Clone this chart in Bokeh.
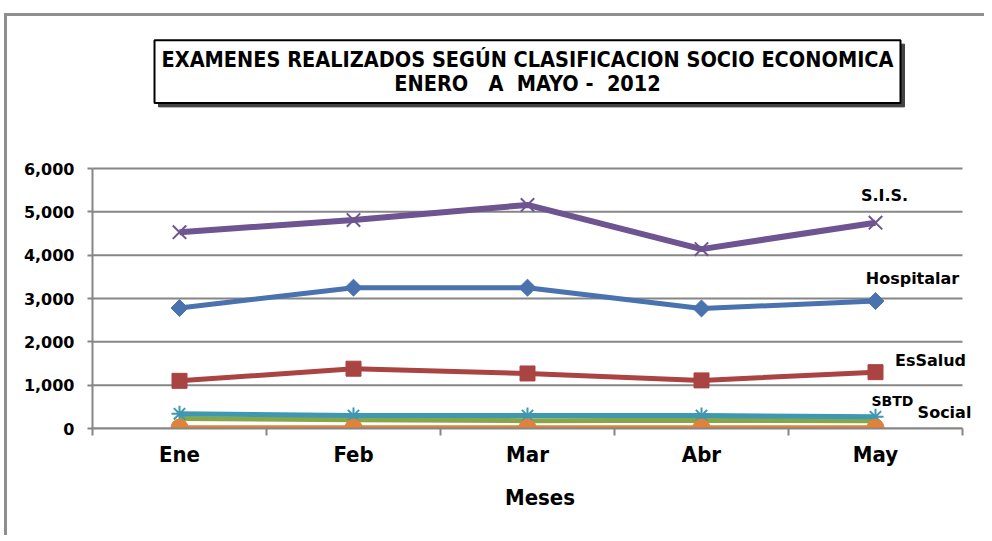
import math
from bokeh.plotting import figure
from bokeh.models import Label, FixedTicker, NumeralTickFormatter, Range1d
from bokeh.embed import file_html
from bokeh.resources import INLINE

months = ["Ene", "Feb", "Mar", "Abr", "May"]
hospitalar = [2780, 3250, 3250, 2770, 2940]
essalud = [1100, 1380, 1270, 1110, 1300]
green_series = [230, 200, 180, 190, 180]
sis = [4530, 4810, 5160, 4140, 4750]
sbtd = [340, 300, 300, 300, 270]
social = [20, 20, 20, 20, 20]
y_ticks = [0, 1000, 2000, 3000, 4000, 5000, 6000]
series_names = ["S.I.S.", "Hospitalar", "EsSalud", "SBTD", "Social"]
title_lines = ["EXAMENES REALIZADOS SEGÚN CLASIFICACION SOCIO ECONOMICA",
               "ENERO\u00a0\u00a0 A\u00a0 MAYO -\u00a0 2012"]

n = len(months)
xs = [i + 0.5 for i in range(n)]
y_top = y_ticks[-1]

W, H = 980, 522
BL, BB = 85, 110
frame_w, frame_h = W - BL, H - BB
px_per_cat = 174.0
px_per_unit_y = 260.0 / y_top
x_end = frame_w / px_per_cat
y_end = frame_h / px_per_unit_y

p = figure(width=W, height=H, output_backend="svg", toolbar_location=None,
           x_range=Range1d(0, x_end), y_range=Range1d(0, y_end),
           min_border_left=BL, min_border_right=0, min_border_top=0, min_border_bottom=BB)
p.background_fill_color = "white"
p.border_fill_color = "white"
p.outline_line_color = None
p.styles = {"border-left": "3px solid #8f8f8f", "border-top": "3px solid #8f8f8f",
            "margin-left": "4px", "margin-top": "13px"}

p.xgrid.grid_line_color = None
p.ygrid.grid_line_color = None
# horizontal gridlines spanning the category area only
p.segment(x0=[0] * len(y_ticks), x1=[n] * len(y_ticks), y0=y_ticks, y1=y_ticks,
          line_color="#868686", line_width=2)

p.yaxis.bounds = (0, y_top)
p.yaxis.ticker = FixedTicker(ticks=y_ticks)
p.yaxis.formatter = NumeralTickFormatter(format="0,0")
p.yaxis.axis_line_color = "#868686"
p.yaxis.axis_line_width = 2
p.yaxis.major_tick_line_color = "#868686"
p.yaxis.major_tick_line_width = 2
p.yaxis.major_tick_out = 5
p.yaxis.major_tick_in = 0
p.yaxis.minor_tick_line_color = None
p.yaxis.major_label_text_font = "DejaVu Sans"
p.yaxis.major_label_text_font_style = "bold"
p.yaxis.major_label_text_font_size = "16px"
p.yaxis.major_label_text_color = "black"
p.yaxis.major_label_standoff = 13

p.xaxis.bounds = (0, n)
p.xaxis.ticker = FixedTicker(ticks=xs, minor_ticks=list(range(n + 1)))
p.xaxis.major_label_overrides = {x: m for x, m in zip(xs, months)}
p.xaxis.axis_line_color = "#868686"
p.xaxis.axis_line_width = 2
p.xaxis.major_tick_line_color = None
p.xaxis.minor_tick_line_color = "#868686"
p.xaxis.minor_tick_line_width = 2
p.xaxis.minor_tick_out = 7
p.xaxis.minor_tick_in = 0
p.xaxis.major_label_text_font = "DejaVu Sans Condensed"
p.xaxis.major_label_text_font_style = "bold"
p.xaxis.major_label_text_font_size = "22px"
p.xaxis.major_label_text_color = "black"
p.xaxis.major_label_standoff = 6
p.xaxis.axis_label = "Meses"
p.xaxis.axis_label_text_font = "DejaVu Sans Condensed"
p.xaxis.axis_label_text_font_style = "bold"
p.xaxis.axis_label_text_font_size = "22px"
p.xaxis.axis_label_text_color = "black"
p.xaxis.axis_label_standoff = 15

c_orange = "#e0823a"
c_green = "#86a64a"
c_teal = "#3f98b2"
c_red = "#a94442"
c_blue = "#4a72ae"
c_purple = "#6e5490"

p.line(xs, green_series, line_color=c_green, line_width=5)
p.line(xs, sbtd, line_color=c_teal, line_width=5)
p.scatter(xs, sbtd, marker="asterisk", size=16, line_color=c_teal, line_width=2)
p.line(xs, social, line_color=c_orange, line_width=5)
p.scatter(xs, social, marker="circle", size=17, fill_color=c_orange, line_color=c_orange)
p.line(xs, essalud, line_color=c_red, line_width=5)
p.scatter(xs, essalud, marker="square", size=15, fill_color=c_red, line_color=c_red)
p.line(xs, hospitalar, line_color=c_blue, line_width=5)
p.scatter(xs, hospitalar, marker="square", angle=math.pi / 4, size=12, fill_color=c_blue, line_color=c_blue)
p.line(xs, sis, line_color=c_purple, line_width=6)
p.scatter(xs, sis, marker="x", size=19, line_color=c_purple, line_width=2)

# series labels: offsets (px) from the frame's bottom-left corner
label_pos = [(792, 233, "16px"), (820, 150, "16px"), (838, 68, "16px"),
             (800, 28, "14px"), (852, 16, "16px")]
for txt, (sx, sy, size) in zip(series_names, label_pos):
    p.add_layout(Label(x=sx, y=sy, x_units="screen", y_units="screen", text=txt,
                       text_align="center", text_baseline="middle",
                       text_font="DejaVu Sans", text_font_style="bold",
                       text_font_size=size, text_color="black"))

title_txt = "\n".join(title_lines)
common = dict(x=435, y=357, x_units="screen", y_units="screen", text=title_txt,
              text_align="center", text_baseline="middle",
              text_font="DejaVu Sans Condensed", text_font_style="bold",
              text_font_size="21.5px", text_line_height=0.95, padding=7)
p.add_layout(Label(x_offset=4, y_offset=-4, text_color="#444444",
                   background_fill_color="#444444", border_line_color="#444444", **common))
p.add_layout(Label(text_color="black", background_fill_color="white",
                   border_line_color="black", border_line_width=2, **common))

open("out.html", "w").write(file_html(p, INLINE))
